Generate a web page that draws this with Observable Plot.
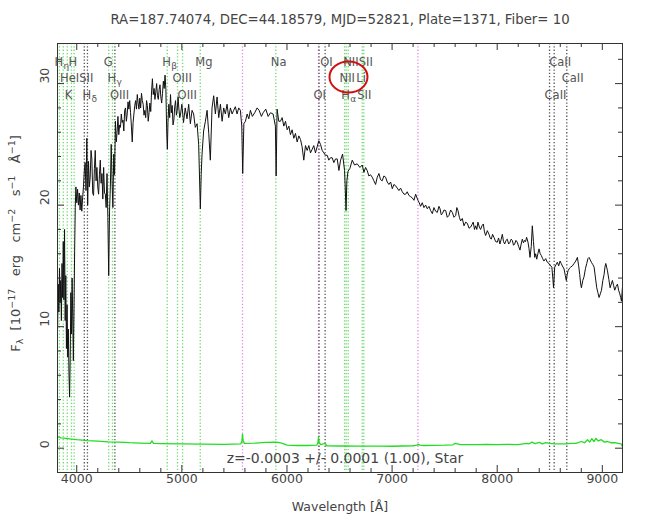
<!DOCTYPE html>
<html><head><meta charset="utf-8">
<script src="https://cdn.jsdelivr.net/npm/d3@7"></script>
<script src="https://cdn.jsdelivr.net/npm/@observablehq/plot@0.6"></script>
<style>body{margin:0;background:#fff;} svg{display:block}</style>
</head><body><div id="chart"></div>
<script>
const titleText = "RA=187.74074, DEC=44.18579, MJD=52821, Plate=1371, Fiber= 10";
const zText = "z=-0.0003 +/- 0.0001 (1.00), Star";
const xLabel = "Wavelength [Å]";
const xTicks = [4000, 5000, 6000, 7000, 8000, 9000];
const yTicks = [0, 10, 20, 30];

const specWave = [3818,3824,3830,3836,3842,3848,3854,3860,3866,3872,3878,3884,3890,3896,3902,3908,3914,3920,3926,3932,3938,3944,3950,3956,3962,3968,3974,3980,3986,3992,4000,
4008,4016,4024,4032,4040,4048,4056,4064,4072,4080,4088,4096,4104,4112,4120,4128,4136,4144,4152,4160,4168,4176,4184,4192,4200,4208,4216,4224,4232,4240,4248,4256,4264,4272,4280,4288,4296,4304,4312,4320,4328,4336,4344,4352,4360,4368,4376,4384,4392,4400,4408,4416,4424,4432,4440,4448,4456,4464,4472,4480,4488,4496,4504,4512,4520,4528,4536,4544,4552,4560,4568,4576,4584,4592,4600,4608,4616,4624,4632,4640,4648,4656,4664,4672,4680,4688,4696,4704,4712,4720,4728,4736,4744,4752,4760,4768,4776,4784,4792,4800,4808,4816,4824,4832,4840,4848,4856,4862,4868,4876,4884,4892,4900,4908,4916,4924,4932,4940,4948,4956,4964,4972,4980,
4988,5000,5016,5032,5049,5065,5081,5097,5112,5128,5145,5160,5176,5184,5192,5207,5224,5240,5256,5271,5287,5303,5319,5335,5351,5367,5383,5398,5414,5430,5446,5462,5478,5493,5509,5525,5541,5557,5570,5579,5590,5605,5621,5637,5652,5671,5693,5716,5735,5757,5773,5798,5821,5843,5868,5890,5897,5906,5922,5938,
5954,5970,5986,6002,6018,6033,6049,6065,6081,6097,6113,6129,6144,6160,6176,6192,6208,6224,6240,6255,6271,6287,6303,6319,6335,6351,6367,6383,6398,6414,6430,6446,6462,6478,6494,6510,6529,6548,6556,6562,6570,6581,6598,6621,6643,6668,6694,6716,6732,6748,6763,6779,6795,6811,6827,6843,6859,6875,6890,6906,6922,6938,6954,6970,6986,7002,7017,7033,7049,7065,7081,7097,7113,7129,7144,7160,7176,7192,7208,7224,7246,7258,7271,7287,7303,7319,7335,7351,7367,7383,7398,7414,7430,7446,7456,7468,7478,7494,7510,7525,7541,7557,7573,7589,7605,7616,7627,7640,7652,7668,7684,7700,7716,7732,7748,7760,7772,7784,7795,7806,7817,7830,7842,7855,7868,7879,7890,7906,7922,7933,7944,7956,7969,7985,8001,8013,8026,8038,8049,8060,8071,8084,8096,8109,8122,8133,8144,8155,8166,8178,8191,8204,8217,8228,8239,8250,8261,8270,8280,8293,8303,8312,8324,8334,8345,8357,8366,8376,8387,8398,8409,8420,8432,8445,8461,8477,8493,8509,8520,8530,8536,8547,8560,8572,8585,8598,8609,8620,8636,8648,8657,8666,8674,8687,8699,8715,8731,8747,8763,8775,8785,8793,8801,8814,8826,8840,8852,8863,8874,8885,8896,8910,8922,8935,8947,8958,8969,8981,8992,9005,9017,9025,9033,9041,9049,9062,9074,9085,9096,9107,9118,9131,9144,9155,9166,9175,9182,9191];

const specFlux = [9.8,13.5,11.2,14.8,12.0,13.8,10.5,15.2,12.4,17.0,12.2,18.0,10.5,14.2,8.2,11.8,7.5,9.8,6.2,4.2,7.5,12.8,9.4,14.0,10.8,7.2,11.5,16.2,19.8,21.5,20.2,
21.3,20.0,21.0,19.6,20.8,19.5,20.6,21.5,22.8,23.5,21.2,25.5,20.0,23.6,21.5,22.3,24.5,23.8,21.0,20.8,23.0,24.5,22.0,23.1,21.5,20.9,22.5,23.7,21.8,22.6,20.5,23.1,21.0,20.9,19.8,22.6,19.0,14.2,19.5,21.5,25.0,22.0,19.8,24.2,22.5,26.9,25.2,26.0,27.3,25.8,26.6,26.4,27.5,26.8,27.0,26.1,27.8,28.0,26.9,27.5,28.5,27.9,28.6,27.6,26.5,25.2,26.8,27.5,28.2,28.6,27.9,29.1,28.4,27.9,28.8,28.0,29.2,28.6,28.3,27.4,27.8,27.2,28.6,28.2,26.9,27.6,28.4,27.7,29.4,30.4,29.1,29.6,28.7,29.3,30.0,29.0,28.7,29.5,29.9,28.9,28.4,29.2,30.2,29.6,30.7,29.5,26.0,24.6,26.8,28.3,27.2,29.1,27.6,28.2,26.6,27.0,28.1,28.6,27.4,27.8,28.9,27.9,27.2,
27.5,28.3,26.8,28.0,27.1,28.3,26.7,27.8,27.5,26.4,26.7,25.0,19.7,22.5,24.2,26.1,26.9,27.8,25.9,23.7,28.0,29.0,27.5,28.9,27.2,28.3,26.9,28.0,27.5,28.3,27.2,28.0,27.5,27.8,28.1,27.5,28.0,27.8,26.5,22.6,26.7,26.9,27.5,27.1,27.8,27.3,27.6,28.0,27.8,27.3,27.6,27.9,27.3,27.6,27.5,26.5,22.4,27.9,26.9,26.9,
27.2,26.5,26.9,26.2,26.5,25.8,26.2,25.5,25.9,25.2,25.7,25.4,24.8,23.7,24.9,24.5,24.9,24.3,24.6,24.9,24.3,24.8,25.3,25.0,24.5,24.3,24.1,24.1,23.7,23.9,23.9,23.5,23.8,23.8,22.85,23.7,24.2,22.85,21.0,19.55,22.0,22.8,23.0,23.7,23.3,23.4,23.1,23.3,22.7,23.1,22.85,22.4,22.5,22.3,22.0,21.7,22.3,22.6,22.1,22.0,22.4,22.3,21.9,21.7,21.9,21.35,21.7,21.6,21.4,21.2,21.4,21.1,20.9,20.9,21.1,20.8,20.7,20.6,20.4,20.9,20.4,20.2,19.9,20.2,19.8,20.0,19.7,19.9,19.55,19.3,19.8,19.5,19.4,19.9,19.7,19.2,19.3,19.6,19.55,19.0,19.15,19.6,19.4,19.0,19.15,19.8,19.55,19.0,18.7,18.9,18.3,18.6,18.5,18.1,18.2,18.4,18.6,18.0,18.3,18.0,18.6,18.2,18.0,18.3,18.45,17.8,17.5,17.9,17.6,17.3,17.2,17.6,17.35,17.0,16.95,17.3,16.8,17.2,17.6,17.0,16.8,17.1,17.2,16.8,16.95,17.2,17.1,16.7,16.8,17.1,16.95,16.6,16.3,16.8,17.2,16.9,17.1,17.0,17.35,16.95,16.4,15.7,16.6,18.3,17.0,15.7,16.0,15.55,16.0,16.4,16.0,15.85,15.6,15.4,15.6,15.3,15.2,15.0,14.9,13.9,13.2,14.9,15.1,15.3,15.0,15.4,15.2,15.0,14.75,14.2,13.8,14.3,14.6,14.8,14.9,15.0,15.2,15.4,15.7,15.0,14.3,13.6,13.2,13.8,14.1,14.8,15.2,15.6,15.7,15.5,15.3,15.1,14.9,14.0,13.2,12.8,12.4,12.7,13.0,13.8,14.3,14.9,15.2,14.9,14.6,13.9,13.2,13.5,13.8,13.4,13.0,13.3,13.5,13.0,12.7,12.4,12.1,13.2];

const errWave = [3818,3850,3900,3950,4000,4100,4200,4300,4400,4500,4600,4700,4715,4730,4800,5000,5200,5400,5560,5572,5577,5583,5595,5700,5800,5900,5950,6000,6100,6200,6285,6295,6300,6306,6318,6363,6380,6500,6700,6900,7000,7200,7235,7250,7265,7300,7500,7580,7600,7650,7800,7900,8000,8100,8200,8280,8300,8330,8360,8400,8430,8460,8500,8550,8600,8650,8700,8750,8800,8830,8860,8880,8900,8920,8940,8960,8990,9020,9050,9080,9120,9150,9180,9191];
const errFlux = [0.95,0.85,0.8,0.75,0.7,0.62,0.58,0.52,0.5,0.45,0.42,0.4,0.6,0.4,0.38,0.35,0.33,0.32,0.35,0.6,1.15,0.6,0.4,0.42,0.48,0.5,0.42,0.25,0.22,0.22,0.25,0.5,0.9,0.5,0.3,0.4,0.2,0.18,0.17,0.17,0.16,0.2,0.25,0.32,0.25,0.22,0.25,0.28,0.4,0.3,0.3,0.32,0.3,0.32,0.3,0.4,0.35,0.5,0.38,0.48,0.36,0.45,0.4,0.35,0.35,0.35,0.4,0.4,0.55,0.45,0.7,0.5,0.78,0.55,0.8,0.6,0.7,0.5,0.55,0.45,0.45,0.4,0.35,0.15];

// marked lines: wavelength and colour group (g = green, d = dark, m = sky/magenta)
const lineWave = [3835,3872,3910,3950,3975,4072,4102,4304,4340,4363,4861,4959,5007,5175,5577,5894,6300,6305,6363,6548,6563,6583,6716,6731,7246,8498,8542,8662];
const lineKind = ["g","g","g","g","g","d","d","g","g","d","g","g","g","g","m","g","m","d","d","g","g","g","g","g","m","d","d","d"];

// line labels: wavelength, text, greek subscript, row
const labelWave = [3835,3969,4304,4861,5175,5894,6363,6583,6731,8542, 3889,4072,4340,4959,6548,6707,8662, 3934,4102,4363,5007,6300,6563,6716,8498];
const labelText = ["H","H","G","H","Mg","Na","OI","NII","SII","CaII", "HeI","SII","H","OIII","NII","Li","CaII", "K","H","OIII","OIII","OI","H","SII","CaII"];
const labelSub  = ["η","","","β","","","","","","", "","","γ","","","","", "","δ","","","","α","",""];
const labelRow  = [0,0,0,0,0,0,0,0,0,0, 1,1,1,1,1,1,1, 2,2,2,2,2,2,2,2];

const W = 650, H = 524, mt = 43, ml = 57, mr = 28, mb = 52;
const fw = W - ml - mr, fh = H - mt - mb;
const xDom = [3817, 9192], yDom = [-2, 33.3];

const spec = specWave.map((w, i) => ({w, f: specFlux[i]}));
const err = errWave.map((w, i) => ({w, f: errFlux[i]}));
const lines = lineWave.map((w, i) => ({w, k: lineKind[i]}));
const labels = labelWave.map((w, i) => ({w, t: labelText[i], s: labelSub[i], r: labelRow[i]}));
const xMinor = d3.range(3800, 9201, 200).filter(v => v > xDom[0] && v < xDom[1] && v % 1000 !== 0);
const yMinor = d3.range(-2, 34, 2).filter(v => v > yDom[0] && v < yDom[1] && v % 10 !== 0);
const lineColor = {g: "#70dc70", d: "#555", m: "#e68ae6"};
const rowDy = [14, 30, 47];
const txt = "#444";

const marks = [
  Plot.ruleX(lines, {x: "w", stroke: d => lineColor[d.k], strokeWidth: 1.3, strokeDasharray: "1.3,2"}),
  Plot.line(err, {x: "w", y: "f", stroke: "#22dd22", strokeWidth: 1.3}),
  Plot.line(spec, {x: "w", y: "f", stroke: "#111", strokeWidth: 1}),
  Plot.frame({stroke: "#333", strokeWidth: 1}),
  // ticks inward, all four sides
  Plot.tickX(xTicks, {x: d => d, insetTop: fh - 7, stroke: "#333"}),
  Plot.tickX(xTicks, {x: d => d, insetBottom: fh - 7, stroke: "#333"}),
  Plot.tickX(xMinor, {x: d => d, insetTop: fh - 4, stroke: "#333"}),
  Plot.tickX(xMinor, {x: d => d, insetBottom: fh - 4, stroke: "#333"}),
  Plot.tickY(yTicks, {y: d => d, insetRight: fw - 7, stroke: "#333"}),
  Plot.tickY(yTicks, {y: d => d, insetLeft: fw - 7, stroke: "#333"}),
  Plot.tickY(yMinor, {y: d => d, insetRight: fw - 4, stroke: "#333"}),
  Plot.tickY(yMinor, {y: d => d, insetLeft: fw - 4, stroke: "#333"}),
  // tick labels
  Plot.text(xTicks, {x: d => d, text: d => String(d), frameAnchor: "bottom", dy: 10, fontSize: 12.5, fill: txt}),
  Plot.text(yTicks, {y: d => d, text: d => String(d), frameAnchor: "left", dx: -13, rotate: -90, fontSize: 12.5, fill: txt}),
  // texts
  Plot.text([titleText], {frameAnchor: "top", dy: -29, fontSize: 13.3, fill: txt}),
  Plot.text([zText], {frameAnchor: "bottom", dy: -10, dx: 5, fontSize: 14, fill: txt}),
  Plot.text([xLabel], {frameAnchor: "bottom", dy: 38, fontSize: 12.5, fill: txt})
];
for (let r = 0; r < 3; r++) {
  const sub = labels.filter(d => d.r === r);
  marks.push(Plot.text(sub, {x: "w", text: "t", frameAnchor: "top", dy: rowDy[r], dx: -5, textAnchor: "start", fontSize: 11.5, fill: "#555"}));
  marks.push(Plot.text(sub.filter(d => d.s), {x: "w", text: "s", frameAnchor: "top", dy: rowDy[r] + 5, dx: 4, textAnchor: "start", fontSize: 9, fill: "#555"}));
}

const svgNode = Plot.plot({
  width: W, height: H,
  marginTop: mt, marginLeft: ml, marginRight: mr, marginBottom: mb,
  x: {domain: xDom, axis: null},
  y: {domain: yDom, axis: null},
  style: {fontFamily: "DejaVu Sans, sans-serif", background: "#fff"},
  marks
});
document.getElementById("chart").appendChild(svgNode);

const svg = d3.select(svgNode);
const xs = svgNode.scale("x");
// y-axis title with sub/superscripts
const yl = svg.append("text")
  .attr("transform", `translate(${ml - 37},${mt + fh / 2 - 14}) rotate(-90)`)
  .attr("text-anchor", "middle").attr("font-size", 13).attr("fill", txt)
  .attr("font-family", "DejaVu Sans, sans-serif");
const parts = [["F", 0], ["λ", 3], ["  [10", -3], ["−17", -5], ["   erg   cm", 5], ["−2", -5], ["   s", 5], ["−1", -5], ["   Å", 5], ["−1", -5], ["]", 5]];
parts.forEach(([t, dy]) => {
  const small = (t === "λ" || t.startsWith("−"));
  yl.append("tspan").attr("dy", dy).attr("font-size", small ? 9.5 : 13).attr("xml:space", "preserve").text(t);
});
yl.attr("style", "white-space: pre");
// red annotation ellipse around the NII/Li label
svg.append("ellipse")
  .attr("cx", xs.apply(6590)).attr("cy", mt + 34)
  .attr("rx", 19).attr("ry", 15.5)
  .attr("fill", "none").attr("stroke", "#d01010").attr("stroke-width", 2);
</script>
</body></html>
